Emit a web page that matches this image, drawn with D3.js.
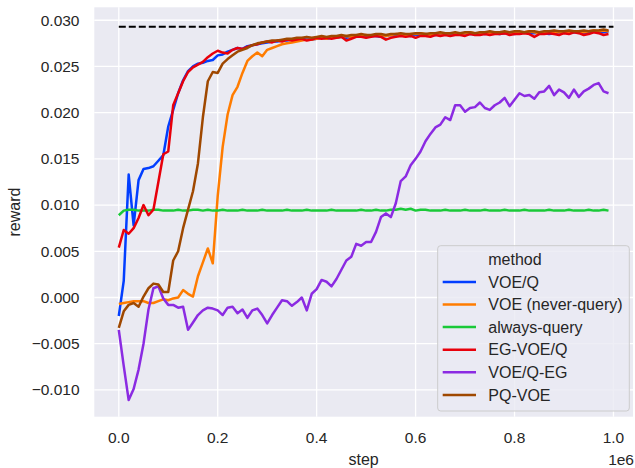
<!DOCTYPE html>
<html lang="en">
  <head>
    <meta charset="utf-8" />
    <title>reward per step by method</title>
    <script src="https://cdnjs.cloudflare.com/ajax/libs/d3/7.8.5/d3.min.js"></script>
    <style type="text/css">
      body {
        margin: 0;
        background: #fff;
      }
      text {
        font-family: "Liberation Sans", Arial, sans-serif;
        fill: #262626;
      }
      .grid line {
        stroke: #fff;
        stroke-width: 1.3;
      }
      .series {
        fill: none;
        stroke-width: 2.5;
        stroke-linejoin: round;
      }
    </style>
  </head>

  <body>
    <div id="chart"></div>

    <script>
      // sample positions (env steps), one every 10k
      const steps = d3.range(0, 1000000, 10000);

      const methods = ["VOE/Q", "VOE (never-query)", "always-query", "EG-VOE/Q", "VOE/Q-EG", "PQ-VOE"];
      const colors = ["#023eff", "#ff7c00", "#1ac938", "#e8000b", "#8b2be2", "#9f4800"];

      const voeQ = [
        -0.002, 0.0018, 0.0133, 0.0078, 0.0127, 0.0139, 0.014, 0.0142, 0.0148, 0.0154,
        0.0185, 0.0203, 0.0221, 0.0235, 0.0245, 0.025, 0.0253, 0.0254, 0.0256, 0.0257,
        0.0262, 0.0263, 0.0266, 0.0268, 0.027, 0.0269, 0.0272, 0.0273, 0.0274, 0.0275,
        0.0276, 0.0277, 0.0277, 0.0278, 0.0278, 0.0279, 0.0279, 0.0279, 0.028, 0.0279,
        0.028, 0.0281, 0.028, 0.0281, 0.0281, 0.0282, 0.0281, 0.0282, 0.0282, 0.0283,
        0.0282, 0.0283, 0.0283, 0.0282, 0.0283, 0.0284, 0.0283, 0.0284, 0.0284, 0.0283,
        0.0284, 0.0284, 0.0285, 0.0284, 0.0284, 0.0285, 0.0285, 0.0284, 0.0285, 0.0285,
        0.0286, 0.0285, 0.0285, 0.0286, 0.0285, 0.0286, 0.0286, 0.0285, 0.0286, 0.0286,
        0.0285, 0.0286, 0.0287, 0.0286, 0.0286, 0.0287, 0.0286, 0.0285, 0.0286, 0.0287,
        0.0287, 0.0286, 0.0287, 0.0287, 0.0286, 0.0287, 0.0288, 0.0287, 0.0287, 0.0288,
      ];
      const voeNever = [
        -0.0007, -0.0006, -0.0005, -0.0004, -0.0004, -0.0004, -0.0006, -0.0006, -0.0004, -0.0002,
        -0.0003, -0.0001, 0.0, 0.0008, 0.0004, 0.0001, 0.0023, 0.0038, 0.0053, 0.0037,
        0.011, 0.0163, 0.0198, 0.0219, 0.0228, 0.0243, 0.0256, 0.0261, 0.0265, 0.0261,
        0.0268, 0.027, 0.0272, 0.0274, 0.0275, 0.0276, 0.0277, 0.0278, 0.0279, 0.0279,
        0.028, 0.0281, 0.028, 0.0282, 0.0281, 0.0282, 0.0283, 0.0282, 0.0283, 0.0283,
        0.0284, 0.0283, 0.0284, 0.0284, 0.0283, 0.0284, 0.0285, 0.0284, 0.0284, 0.0285,
        0.0285, 0.0286, 0.0285, 0.0284, 0.0285, 0.0286, 0.0285, 0.0286, 0.0286, 0.0285,
        0.0286, 0.0287, 0.0286, 0.0286, 0.0287, 0.0286, 0.0287, 0.0287, 0.0286, 0.0287,
        0.0286, 0.0287, 0.0287, 0.0288, 0.0287, 0.0286, 0.0287, 0.0288, 0.0287, 0.0287,
        0.0288, 0.0287, 0.0288, 0.0288, 0.0287, 0.0288, 0.0289, 0.0288, 0.0289, 0.0288,
      ];
      const alwaysQuery = [
        0.0089, 0.0094, 0.0095, 0.0095, 0.0094, 0.0094, 0.0094, 0.0095, 0.0095, 0.0094,
        0.0094, 0.0094, 0.0095, 0.0094, 0.0094, 0.0095, 0.0095, 0.0094, 0.0095, 0.0094,
        0.0094, 0.0095, 0.0094, 0.0094, 0.0094, 0.0095, 0.0094, 0.0094, 0.0094, 0.0095,
        0.0094, 0.0094, 0.0094, 0.0094, 0.0095, 0.0094, 0.0094, 0.0094, 0.0095, 0.0094,
        0.0094, 0.0094, 0.0094, 0.0095, 0.0094, 0.0094, 0.0094, 0.0094, 0.0094, 0.0095,
        0.0094, 0.0094, 0.0095, 0.0094, 0.0094, 0.0095, 0.0095, 0.0096, 0.0095, 0.0096,
        0.0094, 0.0095, 0.0095, 0.0094, 0.0094, 0.0094, 0.0095, 0.0094, 0.0094, 0.0094,
        0.0095, 0.0094, 0.0094, 0.0094, 0.0095, 0.0094, 0.0094, 0.0094, 0.0095, 0.0094,
        0.0094, 0.0094, 0.0095, 0.0094, 0.0094, 0.0094, 0.0094, 0.0095, 0.0094, 0.0094,
        0.0094, 0.0095, 0.0094, 0.0094, 0.0094, 0.0095, 0.0094, 0.0094, 0.0095, 0.0094,
      ];
      const egVoeQ = [
        0.0054, 0.0073, 0.0069, 0.0075, 0.0086, 0.01, 0.0089, 0.0095, 0.0125, 0.0155,
        0.0158, 0.0208, 0.0221, 0.0234, 0.0244, 0.0249, 0.0252, 0.0255, 0.026, 0.0264,
        0.0267, 0.0265, 0.0264, 0.0268, 0.027, 0.0269, 0.0271, 0.0273, 0.0274, 0.0276,
        0.0277, 0.0276, 0.0278, 0.0277, 0.0279, 0.0278, 0.0279, 0.028, 0.0278, 0.0279,
        0.0281, 0.028, 0.0281, 0.028, 0.0281, 0.0282, 0.0278, 0.028, 0.0282, 0.0282,
        0.0281, 0.0282, 0.0283, 0.0282, 0.0279, 0.0281, 0.0282, 0.0283, 0.0282, 0.0283,
        0.0281, 0.0283, 0.0283, 0.0282, 0.0284, 0.0283, 0.0284, 0.0283, 0.0284, 0.0284,
        0.0283, 0.0285, 0.0284, 0.0284, 0.0285, 0.0284, 0.0285, 0.0285, 0.0286, 0.0284,
        0.0285, 0.0285, 0.0286, 0.0285, 0.0282, 0.0285, 0.0285, 0.0286, 0.0285, 0.0284,
        0.0286, 0.0285, 0.0287, 0.0286, 0.0284, 0.0285, 0.0287, 0.0286, 0.0284, 0.0285,
      ];
      const voeQEg = [
        -0.0035, -0.0074, -0.0111, -0.0099, -0.0078, -0.005, -0.0013, 0.001, 0.0012, -0.0001,
        -0.0008, -0.0008, -0.0011, -0.001, -0.0035, -0.0027, -0.0019, -0.0014, -0.0011, -0.0012,
        -0.0014, -0.0019, -0.0011, -0.001, -0.0017, -0.0013, -0.0022, -0.0014, -0.0012, -0.0019,
        -0.0028, -0.0019, -0.0011, -0.0003, -0.0004, -0.0009, -0.0005, 0.0, -0.0014, 0.0004,
        0.0009, 0.0019, 0.0017, 0.0012, 0.002, 0.003, 0.004, 0.0044, 0.0058, 0.0056,
        0.006, 0.006, 0.0071, 0.0087, 0.0091, 0.0087, 0.0102, 0.0126, 0.0131, 0.0143,
        0.015, 0.0158, 0.0169, 0.0177, 0.0184, 0.0187, 0.0195, 0.0192, 0.0208, 0.0208,
        0.0201, 0.0205, 0.0206, 0.0211, 0.0205, 0.0203, 0.0208, 0.0211, 0.0216, 0.0207,
        0.0214, 0.0221, 0.0218, 0.0219, 0.0215, 0.0222, 0.0223, 0.0229, 0.0219, 0.0225,
        0.0222, 0.0216, 0.0225, 0.0217, 0.0223, 0.0226, 0.023, 0.0232, 0.0223, 0.0221,
      ];
      const pqVoe = [
        -0.0033, -0.0015, -0.0008, -0.0006, -0.001, 0.0001, 0.001, 0.0015, 0.0014, 0.0006,
        0.0006, 0.004, 0.005, 0.0075, 0.0095, 0.0115, 0.0145, 0.0195, 0.0234, 0.0244,
        0.0243, 0.0253, 0.0258, 0.0262, 0.0266, 0.0268, 0.027, 0.0273, 0.0275, 0.0276,
        0.0277, 0.0278, 0.0278, 0.0279, 0.028, 0.028, 0.0281, 0.0281, 0.0282, 0.0281,
        0.0282, 0.0283, 0.0282, 0.0283, 0.0283, 0.0284, 0.0283, 0.0284, 0.0284, 0.0285,
        0.0284, 0.0284, 0.0285, 0.0285, 0.0284, 0.0285, 0.0285, 0.0286, 0.0285, 0.0285,
        0.0286, 0.0286, 0.0285, 0.0286, 0.0286, 0.0287, 0.0286, 0.0286, 0.0287, 0.0286,
        0.0287, 0.0287, 0.0286, 0.0287, 0.0287, 0.0288, 0.0287, 0.0287, 0.0288, 0.0287,
        0.0288, 0.0288, 0.0287, 0.0288, 0.0288, 0.0287, 0.0288, 0.0288, 0.0289, 0.0288,
        0.0288, 0.0289, 0.0288, 0.0288, 0.0289, 0.0288, 0.0289, 0.0289, 0.029, 0.0289,
      ];

      // dashed reference (optimal reward), drawn from step 0 to 1e6
      const optimalReward = 0.0293;
      const optimalSpan = [0, 1000000];

      const xTicks = [0, 200000, 400000, 600000, 800000, 1000000];
      const yTicks = [-0.01, -0.005, 0, 0.005, 0.01, 0.015, 0.02, 0.025, 0.03];

      const series = [voeQ, voeNever, alwaysQuery, egVoeQ, voeQEg, pqVoe];

      const outerWidth = 635;
      const outerHeight = 468;
      const plot = { left: 94.3, right: 633, top: 7.3, bottom: 416.7 };

      const svg = d3
        .select("#chart")
        .append("svg")
        .attr("width", outerWidth)
        .attr("height", outerHeight);

      // matplotlib style 5% margins around the data
      const x = d3.scaleLinear().domain([-49500, 1039500]).range([plot.left, plot.right]);
      const y = d3.scaleLinear().domain([-0.0129, 0.0314]).range([plot.bottom, plot.top]);

      svg
        .append("rect")
        .attr("x", plot.left)
        .attr("y", plot.top)
        .attr("width", plot.right - plot.left)
        .attr("height", plot.bottom - plot.top)
        .attr("fill", "#eaeaf2");

      // grid
      const grid = svg.append("g").attr("class", "grid");
      grid
        .selectAll(".gx")
        .data(xTicks)
        .join("line")
        .attr("x1", (d) => x(d))
        .attr("x2", (d) => x(d))
        .attr("y1", plot.top)
        .attr("y2", plot.bottom);
      grid
        .selectAll(".gy")
        .data(yTicks)
        .join("line")
        .attr("class", "gy")
        .attr("x1", plot.left)
        .attr("x2", plot.right)
        .attr("y1", (d) => y(d))
        .attr("y2", (d) => y(d));

      // tick labels
      const fmtY = d3.format(".3f");
      svg
        .append("g")
        .selectAll("text")
        .data(yTicks)
        .join("text")
        .attr("x", 79.5)
        .attr("y", (d) => y(d))
        .attr("dy", "0.35em")
        .attr("text-anchor", "end")
        .attr("font-size", 15.5)
        .text((d) => fmtY(d).replace("-", "\u2212"));

      svg
        .append("g")
        .selectAll("text")
        .data(xTicks)
        .join("text")
        .attr("x", (d) => x(d))
        .attr("y", 443)
        .attr("text-anchor", "middle")
        .attr("font-size", 15.5)
        .text((d) => (d / 1e6).toFixed(1));

      svg
        .append("text")
        .attr("x", plot.right + 1)
        .attr("y", 465)
        .attr("text-anchor", "end")
        .attr("font-size", 15.5)
        .text("1e6");

      svg
        .append("text")
        .attr("x", (plot.left + plot.right) / 2)
        .attr("y", 465)
        .attr("text-anchor", "middle")
        .attr("font-size", 16)
        .text("step");

      svg
        .append("text")
        .attr("transform", `translate(20, ${(plot.top + plot.bottom) / 2}) rotate(-90)`)
        .attr("text-anchor", "middle")
        .attr("font-size", 16)
        .text("reward");

      // lines
      const line = d3
        .line()
        .x((d, i) => x(steps[i]))
        .y((d) => y(d));

      svg
        .append("g")
        .selectAll("path")
        .data(series)
        .join("path")
        .attr("class", "series")
        .attr("stroke", (d, i) => colors[i])
        .attr("d", line);

      svg
        .append("line")
        .attr("x1", x(optimalSpan[0]))
        .attr("x2", x(optimalSpan[1]))
        .attr("y1", y(optimalReward))
        .attr("y2", y(optimalReward))
        .attr("stroke", "#000")
        .attr("stroke-width", 2)
        .attr("stroke-dasharray", "7,3");

      // legend
      const legend = svg.append("g").attr("transform", "translate(437.7, 245.7)");
      legend
        .append("rect")
        .attr("width", 191.6)
        .attr("height", 165.3)
        .attr("rx", 3)
        .attr("fill", "#eaeaf2")
        .attr("fill-opacity", 0.8)
        .attr("stroke", "#cccccc")
        .attr("stroke-width", 1);

      const rowH = 22.6;
      legend
        .append("text")
        .attr("x", 50.6)
        .attr("y", 13.6)
        .attr("dy", "0.35em")
        .attr("font-size", 16)
        .text("method");

      const rows = legend
        .selectAll(".row")
        .data(methods)
        .join("g")
        .attr("class", "row")
        .attr("transform", (d, i) => `translate(0, ${13.6 + rowH * (i + 1)})`);
      rows
        .append("line")
        .attr("x1", 5)
        .attr("x2", 38.3)
        .attr("stroke", (d, i) => colors[i])
        .attr("stroke-width", 2.5);
      rows
        .append("text")
        .attr("x", 50.6)
        .attr("dy", "0.35em")
        .attr("font-size", 16)
        .text((d) => d);
    </script>
  </body>
</html>
